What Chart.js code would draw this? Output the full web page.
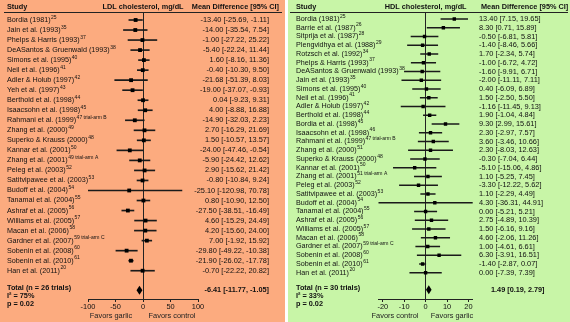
<!DOCTYPE html>
<html lang="en">
<head>
<meta charset="UTF-8">
<title>Garlic and cholesterol - forest plots</title>
<script src="https://cdn.jsdelivr.net/npm/chart.js"></script>
<style>
  body { margin: 0; background: #fff; }
  .panel { position: absolute; top: 0; height: 322px; }
  #ldlPanel { left: 0; width: 285px; background: #fcab7f; }
  #hdlPanel { left: 288px; width: 282px; background: #c8f5a7; }
  canvas { position: absolute; left: 0; top: 0; }
</style>
</head>
<body>
<div class="panel" id="ldlPanel"><canvas id="ldlChart" width="285" height="322"></canvas></div>
<div class="panel" id="hdlPanel"><canvas id="hdlChart" width="282" height="322"></canvas></div>

<script>
// LDL cholesterol (left panel)
var ldlStudies = ['Bordia (1981)', 'Jain et al. (1993)', 'Phelps & Harris (1993)', 'DeASantos & Gruenwald (1993)',
  'Simons et al. (1995)', 'Neil et al. (1996)', 'Adler & Holub (1997)', 'Yeh et al. (1997)', 'Berthold et al. (1998)',
  'Isaacsohn et al. (1998)', 'Rahmani et al. (1999)', 'Zhang et al. (2000)', 'Superko & Krauss (2000)',
  'Kannar et al. (2001)', 'Zhang et al. (2001)', 'Peleg et al. (2003)', 'Satitvipawee et al. (2003)',
  'Budoff et al. (2004)', 'Tanamai et al. (2004)', 'Ashraf et al. (2005)', 'Williams et al. (2005)',
  'Macan et al. (2006)', 'Gardner et al. (2007)', 'Sobenin et al. (2008)', 'Sobenin et al. (2010)', 'Han et al. (2011)'];
var ldlRefs = ['25', '35', '37', '38', '40', '41', '42', '43', '44', '45', '47 trial-arm B', '49', '48', '50',
  '49 trial-arm A', '52', '53', '54', '55', '56', '57', '58', '59 trial-arm C', '60', '61', '20'];
var ldlMean = [-13.40, -14.00, -1.00, -5.40, 1.60, -0.40, -21.68, -19.00, 0.04, 4.00, -14.90, 2.70, 1.50,
  -24.00, -5.90, 2.90, -0.80, -25.10, 0.80, -27.50, 4.60, 4.20, 7.00, -29.80, -21.90, -0.70];
var ldlLow = [-25.69, -35.54, -27.22, -22.24, -8.16, -10.30, -51.39, -37.07, -9.23, -8.88, -32.03, -16.29, -10.57,
  -47.46, -24.42, -15.62, -10.84, -120.98, -10.90, -38.51, -15.29, -15.60, -1.92, -49.22, -26.02, -22.22];
var ldlHigh = [-1.11, 7.54, 25.22, 11.44, 11.36, 9.50, 8.03, -0.93, 9.31, 16.88, 2.23, 21.69, 13.57,
  -0.54, 12.62, 21.42, 9.24, 70.78, 12.50, -16.49, 24.49, 24.00, 15.92, -10.38, -17.78, 20.82];
var ldlTotal = [-6.41, -11.77, -1.05];
var ldlTicks = [-100, -50, 0, 50, 100];

// HDL cholesterol (right panel)
var hdlStudies = ['Bordia (1981)', 'Barrie et al. (1987)', 'Sitprija et al. (1987)', 'Plengvidhya et al. (1988)',
  'Rotzsch et al. (1992)', 'Phelps & Harris (1993)', 'DeASantos & Gruenwald (1993)', 'Jain et al. (1993)',
  'Simons et al. (1995)', 'Neil et al. (1996)', 'Adler & Holub (1997)', 'Berthold et al. (1998)',
  'Bordia et al. (1998)', 'Isaacsohn et al. (1998)', 'Rahmani et al. (1999)', 'Zhang et al. (2000)',
  'Superko & Krauss (2000)', 'Kannar et al. (2001)', 'Zhang et al. (2001)', 'Peleg et al. (2003)',
  'Satitvipawee et al. (2003)', 'Budoff et al. (2004)', 'Tanamai et al. (2004)', 'Ashraf et al. (2005)',
  'Williams et al. (2005)', 'Macan et al. (2006)', 'Gardner et al. (2007)', 'Sobenin et al. (2008)',
  'Sobenin et al. (2010)', 'Han et al. (2011)'];
var hdlRefs = ['25', '26', '28', '29', '34', '37', '38', '35', '40', '41', '42', '44', '45', '46', '47 trial-arm B',
  '51', '48', '50', '51 trial-arm A', '52', '53', '54', '55', '56', '57', '58', '59 trial-arm C', '60', '61', '20'];
var hdlMean = [13.40, 8.30, -0.50, -1.40, 1.70, -1.00, -1.60, -2.00, 0.40, 1.50, -1.16, 1.90, 9.30, 2.30, 3.60,
  2.30, -0.30, -5.10, 1.10, -3.30, 1.10, 4.30, 0.00, 2.75, 1.50, 4.60, 1.00, 6.30, -1.40, 0.00];
var hdlLow = [7.15, 0.71, -6.81, -8.46, -2.34, -6.72, -9.91, -11.11, -6.09, -2.50, -11.45, -1.04, 2.99, -2.97, -3.46,
  -8.03, -7.04, -15.06, -5.25, -12.22, -2.29, -36.31, -5.21, -4.89, -6.16, -2.06, -4.61, -3.91, -2.87, -7.39];
var hdlHigh = [19.65, 15.89, 5.81, 5.66, 5.74, 4.72, 6.71, 7.11, 6.89, 5.50, 9.13, 4.84, 15.61, 7.57, 10.66,
  12.63, 6.44, 4.86, 7.45, 5.62, 4.49, 44.91, 5.21, 10.39, 9.16, 11.26, 6.61, 16.51, 0.07, 7.39];
var hdlTotal = [1.49, 0.19, 2.79];
var hdlTicks = [-20, -10, 0, 10, 20];

var FONT = '"Liberation Sans", Arial, sans-serif';

function fmt(m, l, h) {
  return m.toFixed(2) + ' [' + l.toFixed(2) + ', ' + h.toFixed(2) + ']';
}

// draws the text columns, header, diamond and footer using the chart's scales
function forestText(cfg) {
  return {
    id: 'forestText',
    afterDraw: function(chart) {
      var c = chart.ctx, xs = chart.scales.x, ys = chart.scales.y;
      var n = cfg.studies.length;
      c.save();
      c.fillStyle = '#111';
      c.textBaseline = 'middle';

      // header
      c.font = 'bold 7.3px ' + FONT;
      c.textAlign = 'left';
      c.fillText('Study', cfg.nameX, 7);
      c.textAlign = 'center';
      c.fillText(cfg.title, xs.getPixelForValue(0), 7);
      c.textAlign = cfg.headAlign;
      c.fillText('Mean Difference [95% CI]', cfg.headX, 7);
      c.strokeStyle = '#222';
      c.lineWidth = 1;
      c.beginPath();
      c.moveTo(cfg.rule[0], 12.5);
      c.lineTo(cfg.rule[1], 12.5);
      c.stroke();

      // rows
      for (var i = 0; i < n; i++) {
        var py = ys.getPixelForValue(i);
        c.textAlign = 'left';
        c.font = '7.2px ' + FONT;
        c.fillText(cfg.studies[i], cfg.nameX, py);
        var w = c.measureText(cfg.studies[i]).width;
        c.font = '5px ' + FONT;
        c.fillText(cfg.refs[i], cfg.nameX + w + 0.5, py - 2.8);
        c.font = '7.4px ' + FONT;
        c.textAlign = cfg.valueAlign;
        c.fillText(fmt(cfg.mean[i], cfg.low[i], cfg.high[i]), cfg.valueX, py);
      }

      // pooled estimate diamond
      var ty = ys.getPixelForValue(n + 0.95);
      var t = cfg.total;
      c.fillStyle = '#000';
      c.beginPath();
      c.moveTo(xs.getPixelForValue(t[1]), ty);
      c.lineTo(xs.getPixelForValue(t[0]), ty - 4.5);
      c.lineTo(xs.getPixelForValue(t[2]), ty);
      c.lineTo(xs.getPixelForValue(t[0]), ty + 4.5);
      c.closePath();
      c.fill();

      c.fillStyle = '#111';
      c.font = 'bold 7.3px ' + FONT;
      c.textAlign = 'left';
      c.fillText(cfg.totalLabel, cfg.nameX, ty - 2);
      c.fillText('I\u00b2 = ' + cfg.i2, cfg.nameX, ty + 6);
      c.fillText('p = ' + cfg.p, cfg.nameX, ty + 14);
      c.textAlign = cfg.valueAlign;
      c.fillText(fmt(t[0], t[1], t[2]), cfg.totalX, ty);

      // favours labels
      c.font = '7.4px ' + FONT;
      c.textAlign = 'center';
      c.fillStyle = '#222';
      c.fillText(cfg.favors[0], cfg.favorsX[0], 316);
      c.fillText(cfg.favors[1], cfg.favorsX[1], 316);
      c.restore();
    }
  };
}

function makeForest(id, cfg) {
  var ctx = document.getElementById(id).getContext('2d');
  return new Chart(ctx, {
    type: 'scatter',
    data: {
      datasets: [{
        type: 'scatter',
        data: cfg.mean.map(function(m, i) { return { x: m, y: i }; }),
        pointStyle: 'rect',
        pointRadius: cfg.pointR,
        backgroundColor: '#000',
        borderWidth: 0
      }, {
        type: 'bar',
        indexAxis: 'y',
        data: cfg.low.map(function(l, i) { return { x: [l, cfg.high[i]], y: i }; }),
        backgroundColor: '#1a1a1a',
        borderWidth: 0,
        barThickness: 1
      }]
    },
    options: {
      responsive: false,
      animation: false,
      layout: { padding: { left: cfg.pad[0], right: cfg.pad[1], top: 13, bottom: 0 } },
      plugins: { legend: { display: false }, tooltip: { enabled: false } },
      scales: {
        x: {
          type: 'linear',
          offset: false,
          min: cfg.xMin,
          max: cfg.xMax,
          afterBuildTicks: function(s) { s.ticks = cfg.ticks.map(function(v) { return { value: v }; }); },
          afterFit: function(s) { s.height = 23; },
          border: { display: true, color: '#222', width: 1 },
          grid: {
            offset: false,
            color: function(c) { return c.tick && c.tick.value === 0 ? '#222' : 'rgba(0,0,0,0)'; },
            tickColor: '#222',
            tickLength: 3
          },
          ticks: { color: '#111', padding: 1, font: { size: 7.4, family: FONT }, maxRotation: 0 }
        },
        y: {
          type: 'linear',
          display: false,
          offset: false,
          reverse: true,
          min: cfg.yMin,
          max: cfg.yMax
        }
      }
    },
    plugins: [forestText(cfg)]
  });
}

makeForest('ldlChart', {
  studies: ldlStudies, refs: ldlRefs, mean: ldlMean, low: ldlLow, high: ldlHigh, total: ldlTotal, ticks: ldlTicks,
  title: 'LDL cholesterol, mg/dL', totalLabel: 'Total (n = 26 trials)', i2: '75%', p: '0.02',
  favors: ['Favors garlic', 'Favors control'], favorsX: [111, 172],
  xMin: -100, xMax: 100, yMin: -0.698, yMax: 27.82, pad: [88, 87], pointR: 2.7,
  nameX: 7, valueX: 269, valueAlign: 'right', totalX: 269, headX: 279, headAlign: 'right', rule: [4, 282]
});

makeForest('hdlChart', {
  studies: hdlStudies, refs: hdlRefs, mean: hdlMean, low: hdlLow, high: hdlHigh, total: hdlTotal, ticks: hdlTicks,
  title: 'HDL cholesterol, mg/dL', totalLabel: 'Total (n = 30 trials)', i2: '33%', p: '0.02',
  favors: ['Favors control', 'Favors garlic'], favorsX: [107, 164],
  xMin: -22, xMax: 22, yMin: -0.686, yMax: 32.0, pad: [90.5, 97.3], pointR: 2.4,
  nameX: 8, valueX: 191, valueAlign: 'left', totalX: 203, headX: 193, headAlign: 'left', rule: [2, 280]
});
</script>
</body>
</html>
